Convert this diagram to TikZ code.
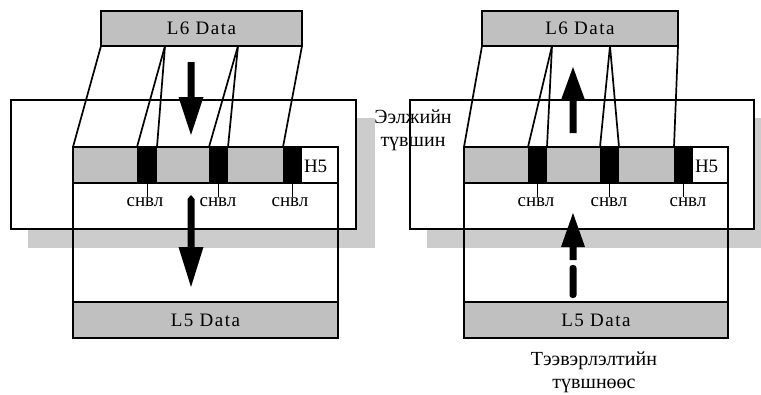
\documentclass[tikz,border=0pt]{standalone}
\usepackage{fontspec}
\setmainfont{Liberation Serif}
\definecolor{boxgray}{HTML}{C0C0C0}
\definecolor{shadowgray}{HTML}{CCCCCC}
\begin{document}
\begin{tikzpicture}[x=1pt,y=-1pt,
  every node/.style={inner sep=0pt, outer sep=0pt},
  rect/.style={anchor=north west, line width=1.4pt},
  outerbox/.style={rect, draw, fill=white},
  databox/.style={rect, draw, fill=boxgray, font=\fontsize{19}{21}\selectfont\addfontfeature{LetterSpace=8}},
  grayband/.style={rect, fill=boxgray},
  blk/.style={rect, fill=black, minimum height=36pt},
  hdrbox/.style={rect, draw, minimum width=265pt, minimum height=36pt},
  conn/.style={line width=1.7pt},
  tick/.style={line width=1pt},
  lbl/.style={font=\fontsize{19}{21}\selectfont},
  hlbl/.style={font=\fontsize{19}{21}\selectfont},
  layer/.style={align=center, font=\fontsize{20}{23}\selectfont}
]
\useasboundingbox (0,0) rectangle (761,394);

% ---------------- left diagram ----------------
\fill[shadowgray] (28,118) rectangle (375,248);
\node[outerbox, minimum width=345pt, minimum height=129pt] (outerL) at (11,100) {};
\node[grayband, minimum width=229pt, minimum height=36pt] (bandL) at (73,147) {};
\node[blk, minimum width=20pt] (blkLa) at (137,147) {};
\node[blk, minimum width=19pt] (blkLb) at (209,147) {};
\node[blk, minimum width=19pt] (blkLc) at (283,147) {};
\node[hdrbox] (hdrL) at (73,147) {};
\node[hlbl, anchor=west] (h5L) at (304,166) {H5};
\node[databox, minimum width=265pt, minimum height=36pt] (L5L) at (73,302) {L5 Data};
\draw[line width=1.4pt] (hdrL.south east) -- (L5L.north east);
\draw[line width=2.6pt] (hdrL.south west) -- (L5L.north west);
\node[databox, minimum width=201pt, minimum height=35pt] (L6L) at (101,11) {L6 Data};
\coordinate (l6La) at (165,46);
\coordinate (l6Lb) at (238,46);
\draw[conn] (L6L.south west) -- (hdrL.north west);
\draw[conn] (l6La) -- (blkLa.north west);
\draw[conn] (l6La) -- (blkLa.north east);
\draw[conn] (l6Lb) -- (blkLb.north west);
\draw[conn] (l6Lb) -- (blkLb.north east);
\draw[conn] (L6L.south east) -- (blkLc.north west);
\node[lbl] (labLa) at (145,202) {снвл};
\node[lbl] (labLb) at (218,202) {снвл};
\node[lbl] (labLc) at (290,202) {снвл};
\draw[tick] (blkLa.south) -- (blkLa.south |- labLa.north);
\draw[tick] (blkLb.south) -- (blkLb.south |- labLb.north);
\draw[tick] (blkLc.south) -- (blkLc.south |- labLc.north);
% arrows
\fill (187.5,62) -- (194.5,62) -- (194.5,97) -- (203.5,97) -- (191,135) -- (178.5,97) -- (187.5,97) -- cycle;
\fill (187.5,199) -- (191,195) -- (194.5,199) -- (194.5,247) -- (203.5,247) -- (191,287) -- (178.5,247) -- (187.5,247) -- cycle;

% ---------------- right diagram ----------------
\fill[shadowgray] (427,118) rectangle (761,248);
\node[outerbox, minimum width=344pt, minimum height=129pt] (outerR) at (410,100) {};
\node[grayband, minimum width=229pt, minimum height=36pt] (bandR) at (464,147) {};
\node[blk, minimum width=19pt] (blkRa) at (528,147) {};
\node[blk, minimum width=19pt] (blkRb) at (600,147) {};
\node[blk, minimum width=19pt] (blkRc) at (674,147) {};
\node[hdrbox, minimum width=264pt] (hdrR) at (464,147) {};
\node[hlbl, anchor=west] (h5R) at (695,166) {H5};
\node[databox, minimum width=264pt, minimum height=36pt] (L5R) at (464,302) {L5 Data};
\draw[line width=1.4pt] (hdrR.south east) -- (L5R.north east);
\draw[line width=2.6pt] (hdrR.south west) -- (L5R.north west);
\node[databox, minimum width=196pt, minimum height=35pt] (L6R) at (482,11) {L6 Data};
\coordinate (l6Ra) at (552,46);
\coordinate (l6Rb) at (610,46);
\draw[conn] (L6R.south west) -- (hdrR.north west);
\draw[conn] (l6Ra) -- (blkRa.north west);
\draw[conn] (l6Ra) -- (blkRa.north east);
\draw[conn] (l6Rb) -- (blkRb.north west);
\draw[conn] (l6Rb) -- (blkRb.north east);
\draw[conn] (L6R.south east) -- (blkRc.north west);
\node[lbl] (labRa) at (536,202) {снвл};
\node[lbl] (labRb) at (609,202) {снвл};
\node[lbl] (labRc) at (688,202) {снвл};
\draw[tick] (blkRa.south) -- (blkRa.south |- labRa.north);
\draw[tick] (blkRb.south) -- (blkRb.south |- labRb.north);
\draw[tick] (blkRc.south) -- (blkRc.south |- labRc.north);
% arrows
\fill (569.5,133) -- (576.5,133) -- (576.5,100) -- (585,100) -- (573,67) -- (561,100) -- (569.5,100) -- cycle;
\fill (569.5,260) -- (576.5,260) -- (576.5,247) -- (585,247) -- (573,213) -- (561,247) -- (569.5,247) -- cycle;
\fill[rounded corners=3pt] (569.5,265) rectangle (576.5,298);

% ---------------- layer names ----------------
\node[layer] (sess) at (413,130) {Ээлжийн\\түвшин};
\node[layer] (trans) at (594,372) {Тээвэрлэлтийн\\түвшнөөс};
\end{tikzpicture}
\end{document}
